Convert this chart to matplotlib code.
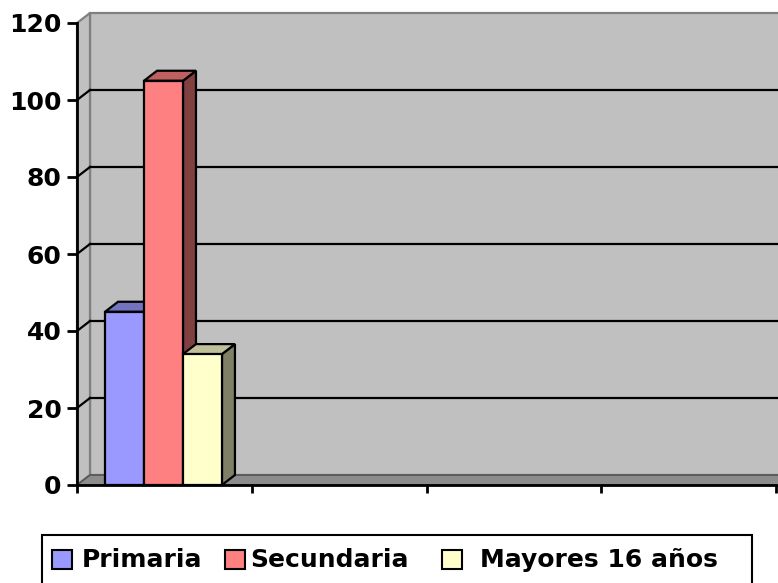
import numpy as np
import matplotlib
matplotlib.use("Agg")
import matplotlib.pyplot as plt
from matplotlib.patches import Polygon, Rectangle

# ---------------- data ----------------
categories = ["", "", "", ""]          # 4 category slots, only the first holds data
series_names = ["Primaria", "Secundaria", "Mayores 16 años"]
primaria = [45, np.nan, np.nan, np.nan]
secundaria = [105, np.nan, np.nan, np.nan]
mayores = [34, np.nan, np.nan, np.nan]
y_ticks = [0, 20, 40, 60, 80, 100, 120]

series_values = [primaria, secundaria, mayores]
front_colors = ["#9999FF", "#FF8080", "#FFFFCC"]
top_colors = ["#7373C0", "#BF6060", "#BFBF99"]
side_colors = ["#4D4D80", "#804040", "#808066"]

W, H = 778, 583
fig = plt.figure(figsize=(W / 100, H / 100), dpi=100)
fig.patch.set_facecolor("white")

# axes placement (pixels)
ax_l, ax_r, ax_b, ax_t = 77, 776, 485, 23
ax = fig.add_axes([ax_l / W, (H - ax_b) / H, (ax_r - ax_l) / W, (ax_b - ax_t) / H])
ncat = len(categories)
ax.set_xlim(0, ncat)
ax.set_ylim(y_ticks[0], y_ticks[-1])
ax.patch.set_visible(False)

# 3-D depth offset expressed in data units
px_x = ncat / (ax_r - ax_l)
px_y = (y_ticks[-1] - y_ticks[0]) / (ax_b - ax_t)
DX, DY = 13 * px_x, 10 * px_y
ymax = y_ticks[-1]
XR = ncat + 1.0  # right side runs past the figure edge

wall_c = "#C0C0C0"
wall_edge = "#808080"
# back wall
ax.add_patch(Polygon([(DX, DY), (XR, DY), (XR, ymax + DY), (DX, ymax + DY)],
                     closed=True, facecolor=wall_c, edgecolor=wall_edge, lw=1.6,
                     clip_on=False, zorder=0.5))
# side wall
ax.add_patch(Polygon([(0, 0), (DX, DY), (DX, ymax + DY), (0, ymax)],
                     closed=True, facecolor=wall_c, edgecolor=wall_edge, lw=1.6,
                     clip_on=False, zorder=0.6))
# floor
ax.add_patch(Polygon([(0, 0), (XR, 0), (XR, DY), (DX, DY)],
                     closed=True, facecolor="#8C8C8C", edgecolor="#555555", lw=1.2,
                     clip_on=False, zorder=0.7))

# gridlines on back and side walls
for v in y_ticks[1:-1]:
    ax.plot([DX, XR], [v + DY, v + DY], color="black", lw=1.6, clip_on=False, zorder=1)
    ax.plot([0, DX], [v, v + DY], color="black", lw=1.6, clip_on=False, zorder=1)

# bars (3-D columns)
bw = 0.223
group_center = 0.495
z = 3
for i, (vals, fc, tc, sc) in enumerate(zip(series_values, front_colors, top_colors, side_colors)):
    for c, v in enumerate(vals):
        if np.isnan(v):
            continue
        xc = c + group_center + (i - 1) * bw
        x0, x1 = xc - bw / 2, xc + bw / 2
        ax.add_patch(Polygon([(x1, 0), (x1 + DX, DY), (x1 + DX, v + DY), (x1, v)],
                             closed=True, facecolor=sc, edgecolor="black", lw=1.6,
                             zorder=z, clip_on=False))
        ax.add_patch(Polygon([(x0, v), (x1, v), (x1 + DX, v + DY), (x0 + DX, v + DY)],
                             closed=True, facecolor=tc, edgecolor="black", lw=1.6,
                             zorder=z + 0.1, clip_on=False))
        ax.bar([xc], [v], width=bw, color=fc, edgecolor="black", linewidth=1.6,
               zorder=z + 0.2, clip_on=False)
        z += 1

# axes lines / ticks
for s in ["top", "right"]:
    ax.spines[s].set_visible(False)
for s in ["left", "bottom"]:
    ax.spines[s].set_color("black")
    ax.spines[s].set_linewidth(2)
    ax.spines[s].set_zorder(2)
ax.set_yticks(y_ticks)
ax.set_yticklabels([str(t) for t in y_ticks], fontsize=18, fontweight="bold",
                   family="DejaVu Sans")
ax.set_xticks(np.arange(ncat + 1))
ax.set_xticklabels([])
ax.tick_params(axis="y", direction="out", length=7, width=2, pad=4, color="black")
ax.tick_params(axis="x", direction="out", length=6, width=2, color="black")

# legend box (manual layout in pixel positions)
def fx(px):
    return px / W

def fy(py):
    return (H - py) / H

fig.add_artist(Rectangle((fx(42), fy(600)), fx(752) - fx(42), fy(535) - fy(600),
                         transform=fig.transFigure, facecolor="white",
                         edgecolor="black", lw=1.5))
marker_x = [52, 225, 442]
text_x = [82, 250, 480]
for name, fc, mx, tx in zip(series_names, front_colors, marker_x, text_x):
    fig.add_artist(Rectangle((fx(mx), fy(569)), fx(20), 19 / H,
                             transform=fig.transFigure, facecolor=fc,
                             edgecolor="black", lw=1.5))
    fig.text(fx(tx), fy(560), name, fontsize=18, fontweight="bold",
             family="DejaVu Sans", va="center", ha="left")

fig.savefig("out.png", dpi=100)
